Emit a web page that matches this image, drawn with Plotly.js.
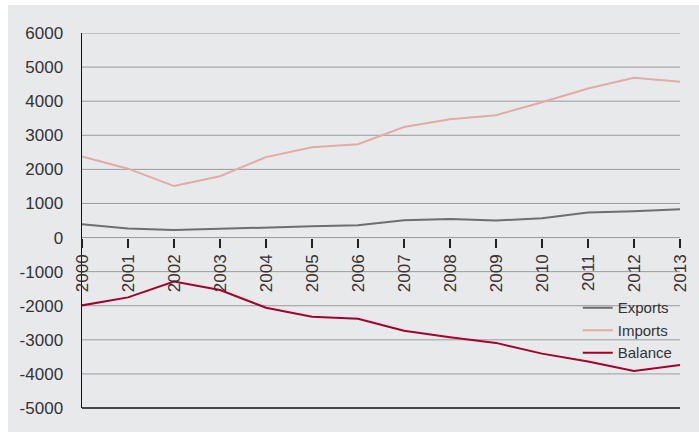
<!DOCTYPE html>
<html>
<head>
<meta charset="utf-8">
<script src="https://cdn.plot.ly/plotly-3.0.1.min.js"></script>
<style>
html,body{margin:0;padding:0;background:#ffffff;}
#chart{position:absolute;left:8px;top:5px;width:691px;height:427px;}
</style>
</head>
<body>
<div id="chart"></div>
<script>
var years = [2000,2001,2002,2003,2004,2005,2006,2007,2008,2009,2010,2011,2012,2013];
var exportsVals = [390,265,220,262,300,330,360,505,545,500,565,735,775,830];
var importsVals = [2380,2020,1510,1800,2360,2650,2740,3240,3470,3590,3970,4370,4690,4570];
var balanceVals = [-1990,-1755,-1290,-1540,-2060,-2320,-2380,-2735,-2925,-3090,-3405,-3635,-3915,-3740];
var yTicks = [-5000,-4000,-3000,-2000,-1000,0,1000,2000,3000,4000,5000,6000];
var yTickLabels = ['-5000','-4000','-3000','-2000','-1000','0','1000','2000','3000','4000','5000','6000'];
var xTickLabels = years.map(String);

var FONT = '"Liberation Sans", Arial, sans-serif';

var traces = [
  {x: years, y: exportsVals, name: 'Exports', type: 'scatter', mode: 'lines',
   line: {color: '#6d6e70', width: 2}},
  {x: years, y: importsVals, name: 'Imports', type: 'scatter', mode: 'lines',
   line: {color: '#e2aba3', width: 2}},
  {x: years, y: balanceVals, name: 'Balance', type: 'scatter', mode: 'lines',
   line: {color: '#a3002e', width: 2}}
];

var zeroPos = (0 - (-5000)) / (6000 - (-5000));

// horizontal grid lines, one per y tick (drawn below the data)
var gridShapes = yTicks.filter(function (v) { return v !== -5000; }).map(function (v) {
  return {type: 'line', xref: 'paper', yref: 'y', x0: 0, x1: 1, y0: v, y1: v,
          line: {color: '#9a9b9d', width: 1}, layer: 'below'};
});

var layout = {
  width: 691, height: 427,
  paper_bgcolor: '#e8e9eb', plot_bgcolor: '#e8e9eb',
  margin: {l: 74, r: 19, t: 28, b: 24, autoexpand: false},
  font: {family: FONT, size: 17, color: '#333333'},
  showlegend: true,
  legend: {x: 0.829, y: 0.311, xanchor: 'left', yanchor: 'top',
           bgcolor: 'rgba(0,0,0,0)', font: {family: FONT, size: 15, color: '#333333'},
           tracegroupgap: 0, itemwidth: 30},
  xaxis: {range: [2000, 2013], anchor: 'free', position: zeroPos,
          side: 'bottom', showgrid: false, zeroline: false, showline: false,
          tickmode: 'array', tickvals: years, ticktext: xTickLabels,
          ticks: 'outside', ticklen: 9, tickwidth: 1.5, tickcolor: '#222222',
          tickangle: -90, tickfont: {family: FONT, size: 17, color: '#333333'}},
  yaxis: {range: [-5000, 6000], tickmode: 'array', tickvals: yTicks, ticktext: yTickLabels,
          showgrid: false, zeroline: false,
          showline: true, linecolor: '#111111', linewidth: 1.5,
          ticks: '', ticklabelstandoff: 14,
          tickfont: {family: FONT, size: 17, color: '#333333'}},
  shapes: gridShapes.concat([
    {type: 'line', xref: 'paper', yref: 'paper', x0: 0, x1: 1, y0: 0, y1: 0,
     line: {color: '#111111', width: 1.5}, layer: 'above'}
  ])
};

Plotly.newPlot('chart', traces, layout, {displayModeBar: false, staticPlot: true});
</script>
</body>
</html>
